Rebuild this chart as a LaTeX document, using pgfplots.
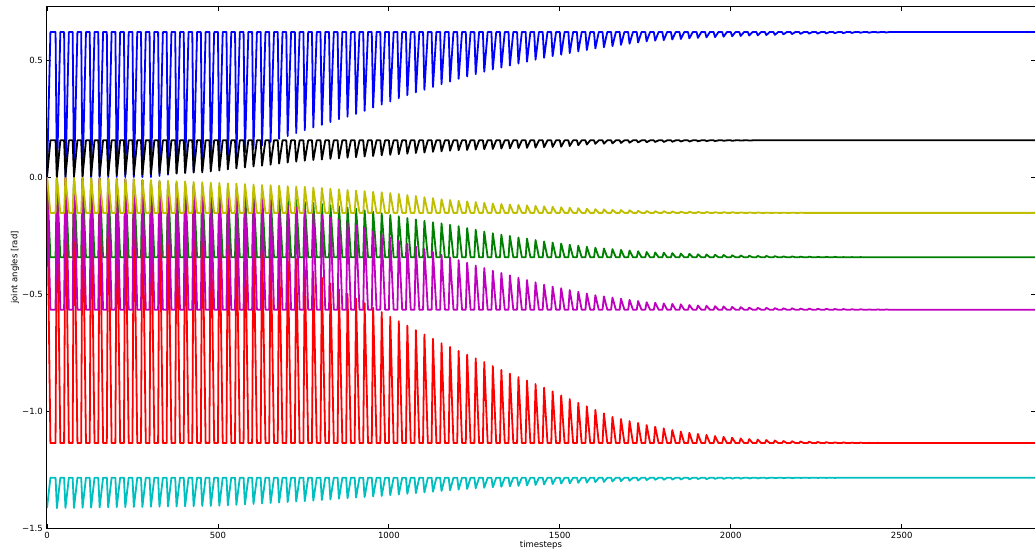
\documentclass[border=0pt]{standalone}
\usepackage{fontspec}
\setmainfont{DejaVu Sans}
\usepackage{pgfplots}
\usepackage{pgfplotstable}
\pgfplotsset{compat=1.18}
\definecolor{mb}{rgb}{0,0,1}
\definecolor{mg}{rgb}{0,0.5,0}
\definecolor{mr}{rgb}{1,0,0}
\definecolor{mc}{rgb}{0,0.75,0.75}
\definecolor{mm}{rgb}{0.75,0,0.75}
\definecolor{my}{rgb}{0.75,0.75,0}
\pgfplotstableread{
t b k y g m r c
0 0 0 0 0 0 0 -1.415
10 0.62 0.157 -0.153 -0.343 -0.567 -1.137 -1.285
25 0.62 0.157 -0.153 -0.343 -0.567 -1.137 -1.285
29 0 0.001 -0.001 -0.001 -0.001 -0.003 -1.415
39 0.62 0.157 -0.153 -0.343 -0.567 -1.137 -1.285
50 0.62 0.157 -0.153 -0.343 -0.567 -1.137 -1.285
54 0 0.002 -0.002 -0.002 -0.002 -0.005 -1.414
64 0.62 0.157 -0.153 -0.343 -0.567 -1.137 -1.285
75 0.62 0.157 -0.153 -0.343 -0.567 -1.137 -1.285
79 0 0.003 -0.003 -0.003 -0.003 -0.008 -1.414
89 0.62 0.157 -0.153 -0.343 -0.567 -1.137 -1.285
100 0.62 0.157 -0.153 -0.343 -0.567 -1.137 -1.285
104 0 0.004 -0.004 -0.004 -0.004 -0.01 -1.413
114 0.62 0.157 -0.153 -0.343 -0.567 -1.137 -1.285
125 0.62 0.157 -0.153 -0.343 -0.567 -1.137 -1.285
129 0 0.005 -0.005 -0.005 -0.005 -0.013 -1.413
139 0.62 0.157 -0.153 -0.343 -0.567 -1.137 -1.285
150 0.62 0.157 -0.153 -0.343 -0.567 -1.137 -1.285
154 0 0.006 -0.006 -0.006 -0.006 -0.015 -1.412
164 0.62 0.157 -0.153 -0.343 -0.567 -1.137 -1.285
175 0.62 0.157 -0.153 -0.343 -0.567 -1.137 -1.285
179 0 0.007 -0.007 -0.007 -0.007 -0.018 -1.412
189 0.62 0.157 -0.153 -0.343 -0.567 -1.137 -1.285
200 0.62 0.157 -0.153 -0.343 -0.567 -1.137 -1.285
204 0 0.008 -0.008 -0.008 -0.008 -0.02 -1.411
214 0.62 0.157 -0.153 -0.343 -0.567 -1.137 -1.285
225 0.62 0.157 -0.153 -0.343 -0.567 -1.137 -1.285
229 0 0.009 -0.009 -0.009 -0.009 -0.023 -1.411
239 0.62 0.157 -0.153 -0.343 -0.567 -1.137 -1.285
250 0.62 0.157 -0.153 -0.343 -0.567 -1.137 -1.285
254 0 0.01 -0.01 -0.01 -0.01 -0.025 -1.41
264 0.62 0.157 -0.153 -0.343 -0.567 -1.137 -1.285
275 0.62 0.157 -0.153 -0.343 -0.567 -1.137 -1.285
279 0 0.011 -0.012 -0.013 -0.014 -0.028 -1.41
289 0.62 0.157 -0.153 -0.343 -0.567 -1.137 -1.285
300 0.62 0.157 -0.153 -0.343 -0.567 -1.137 -1.285
304 0 0.012 -0.013 -0.016 -0.018 -0.03 -1.409
314 0.62 0.157 -0.153 -0.343 -0.567 -1.137 -1.285
325 0.62 0.157 -0.153 -0.343 -0.567 -1.137 -1.285
329 0.005 0.014 -0.015 -0.019 -0.022 -0.041 -1.409
339 0.62 0.157 -0.153 -0.343 -0.567 -1.137 -1.285
350 0.62 0.157 -0.153 -0.343 -0.567 -1.137 -1.285
354 0.01 0.015 -0.016 -0.022 -0.026 -0.053 -1.408
364 0.62 0.157 -0.153 -0.343 -0.567 -1.137 -1.285
375 0.62 0.157 -0.153 -0.343 -0.567 -1.137 -1.285
379 0.015 0.016 -0.018 -0.025 -0.03 -0.064 -1.408
389 0.62 0.157 -0.153 -0.343 -0.567 -1.137 -1.285
400 0.62 0.157 -0.153 -0.343 -0.567 -1.137 -1.285
404 0.02 0.017 -0.019 -0.028 -0.034 -0.075 -1.407
414 0.62 0.157 -0.153 -0.343 -0.567 -1.137 -1.285
425 0.62 0.157 -0.153 -0.343 -0.567 -1.137 -1.285
429 0.025 0.019 -0.021 -0.031 -0.038 -0.086 -1.407
439 0.62 0.157 -0.153 -0.343 -0.567 -1.137 -1.285
450 0.62 0.157 -0.153 -0.343 -0.567 -1.137 -1.285
454 0.03 0.02 -0.022 -0.034 -0.042 -0.098 -1.406
464 0.62 0.157 -0.153 -0.343 -0.567 -1.137 -1.285
475 0.62 0.157 -0.153 -0.343 -0.567 -1.137 -1.285
479 0.045 0.024 -0.024 -0.037 -0.046 -0.109 -1.406
489 0.62 0.157 -0.153 -0.343 -0.567 -1.137 -1.285
500 0.62 0.157 -0.153 -0.343 -0.567 -1.137 -1.285
504 0.06 0.028 -0.025 -0.04 -0.05 -0.12 -1.405
514 0.62 0.157 -0.153 -0.343 -0.567 -1.137 -1.285
525 0.62 0.157 -0.153 -0.343 -0.567 -1.137 -1.285
529 0.075 0.033 -0.027 -0.046 -0.058 -0.143 -1.403
539 0.62 0.157 -0.153 -0.343 -0.567 -1.137 -1.285
550 0.62 0.157 -0.153 -0.343 -0.567 -1.137 -1.285
554 0.09 0.037 -0.028 -0.052 -0.067 -0.167 -1.401
564 0.62 0.157 -0.153 -0.343 -0.567 -1.137 -1.285
575 0.62 0.157 -0.153 -0.343 -0.567 -1.137 -1.285
579 0.105 0.041 -0.03 -0.057 -0.075 -0.19 -1.399
589 0.62 0.157 -0.153 -0.343 -0.567 -1.137 -1.285
600 0.62 0.157 -0.153 -0.343 -0.567 -1.137 -1.285
604 0.12 0.045 -0.032 -0.063 -0.083 -0.213 -1.397
614 0.62 0.157 -0.153 -0.343 -0.567 -1.137 -1.285
625 0.62 0.157 -0.153 -0.343 -0.567 -1.137 -1.285
629 0.135 0.049 -0.034 -0.069 -0.092 -0.237 -1.395
639 0.62 0.157 -0.153 -0.343 -0.567 -1.137 -1.285
650 0.62 0.157 -0.153 -0.343 -0.567 -1.137 -1.285
654 0.15 0.053 -0.035 -0.075 -0.1 -0.26 -1.393
664 0.62 0.157 -0.153 -0.343 -0.567 -1.137 -1.285
675 0.62 0.157 -0.153 -0.343 -0.567 -1.137 -1.285
679 0.163 0.058 -0.037 -0.083 -0.11 -0.29 -1.391
689 0.62 0.157 -0.153 -0.343 -0.567 -1.137 -1.285
700 0.62 0.157 -0.153 -0.343 -0.567 -1.137 -1.285
704 0.175 0.062 -0.039 -0.09 -0.12 -0.32 -1.389
714 0.62 0.157 -0.153 -0.343 -0.567 -1.137 -1.285
725 0.62 0.157 -0.153 -0.343 -0.567 -1.137 -1.285
729 0.188 0.066 -0.04 -0.098 -0.13 -0.35 -1.387
739 0.62 0.157 -0.153 -0.343 -0.567 -1.137 -1.285
750 0.62 0.157 -0.153 -0.343 -0.567 -1.137 -1.285
754 0.2 0.07 -0.042 -0.105 -0.14 -0.38 -1.385
764 0.62 0.157 -0.153 -0.343 -0.567 -1.137 -1.285
775 0.62 0.157 -0.153 -0.343 -0.567 -1.137 -1.285
779 0.212 0.073 -0.045 -0.11 -0.151 -0.405 -1.383
789 0.62 0.157 -0.153 -0.343 -0.567 -1.137 -1.285
800 0.62 0.157 -0.153 -0.343 -0.567 -1.137 -1.285
804 0.223 0.075 -0.047 -0.115 -0.162 -0.43 -1.38
814 0.62 0.157 -0.153 -0.343 -0.567 -1.137 -1.285
825 0.62 0.157 -0.153 -0.343 -0.567 -1.137 -1.285
829 0.235 0.078 -0.05 -0.12 -0.173 -0.455 -1.378
839 0.62 0.157 -0.153 -0.343 -0.567 -1.137 -1.285
850 0.62 0.157 -0.153 -0.343 -0.567 -1.137 -1.285
854 0.247 0.08 -0.052 -0.125 -0.183 -0.48 -1.375
864 0.62 0.157 -0.153 -0.343 -0.567 -1.137 -1.285
875 0.62 0.157 -0.153 -0.343 -0.567 -1.137 -1.285
879 0.258 0.083 -0.055 -0.13 -0.194 -0.5 -1.373
889 0.62 0.157 -0.153 -0.343 -0.567 -1.137 -1.285
900 0.62 0.157 -0.153 -0.343 -0.567 -1.137 -1.285
904 0.27 0.085 -0.058 -0.135 -0.205 -0.519 -1.37
914 0.62 0.157 -0.153 -0.343 -0.567 -1.137 -1.285
925 0.62 0.157 -0.153 -0.343 -0.567 -1.137 -1.285
929 0.283 0.088 -0.06 -0.142 -0.218 -0.539 -1.368
939 0.62 0.157 -0.153 -0.343 -0.567 -1.137 -1.285
950 0.62 0.157 -0.153 -0.343 -0.567 -1.137 -1.285
954 0.297 0.09 -0.063 -0.148 -0.232 -0.558 -1.365
964 0.62 0.157 -0.153 -0.343 -0.567 -1.137 -1.285
975 0.62 0.157 -0.153 -0.343 -0.567 -1.137 -1.285
979 0.31 0.093 -0.065 -0.155 -0.245 -0.577 -1.363
989 0.62 0.157 -0.153 -0.343 -0.567 -1.137 -1.285
1000 0.62 0.157 -0.153 -0.343 -0.567 -1.137 -1.285
1004 0.323 0.095 -0.068 -0.162 -0.258 -0.597 -1.36
1014 0.62 0.157 -0.153 -0.343 -0.567 -1.137 -1.285
1025 0.62 0.157 -0.153 -0.343 -0.567 -1.137 -1.285
1029 0.337 0.098 -0.072 -0.168 -0.272 -0.616 -1.357
1039 0.62 0.157 -0.153 -0.343 -0.567 -1.137 -1.285
1050 0.62 0.157 -0.153 -0.343 -0.567 -1.137 -1.285
1054 0.35 0.1 -0.077 -0.175 -0.285 -0.635 -1.354
1064 0.62 0.157 -0.153 -0.343 -0.567 -1.137 -1.285
1075 0.62 0.157 -0.153 -0.343 -0.567 -1.137 -1.285
1079 0.362 0.103 -0.081 -0.181 -0.297 -0.654 -1.351
1089 0.62 0.157 -0.153 -0.343 -0.567 -1.137 -1.285
1100 0.62 0.157 -0.153 -0.343 -0.567 -1.137 -1.285
1104 0.373 0.105 -0.086 -0.187 -0.308 -0.673 -1.348
1114 0.62 0.157 -0.153 -0.343 -0.567 -1.137 -1.285
1125 0.62 0.157 -0.153 -0.343 -0.567 -1.137 -1.285
1129 0.385 0.108 -0.09 -0.193 -0.32 -0.691 -1.345
1139 0.62 0.157 -0.153 -0.343 -0.567 -1.137 -1.285
1150 0.62 0.157 -0.153 -0.343 -0.567 -1.137 -1.285
1154 0.397 0.11 -0.095 -0.198 -0.332 -0.71 -1.342
1164 0.62 0.157 -0.153 -0.343 -0.567 -1.137 -1.285
1175 0.62 0.157 -0.153 -0.343 -0.567 -1.137 -1.285
1179 0.408 0.113 -0.098 -0.204 -0.343 -0.726 -1.339
1189 0.62 0.157 -0.153 -0.343 -0.567 -1.137 -1.285
1200 0.62 0.157 -0.153 -0.343 -0.567 -1.137 -1.285
1204 0.42 0.115 -0.101 -0.21 -0.355 -0.743 -1.336
1214 0.62 0.157 -0.153 -0.343 -0.567 -1.137 -1.285
1225 0.62 0.157 -0.153 -0.343 -0.567 -1.137 -1.285
1229 0.43 0.116 -0.104 -0.218 -0.366 -0.759 -1.333
1239 0.62 0.157 -0.153 -0.343 -0.567 -1.137 -1.285
1250 0.62 0.157 -0.153 -0.343 -0.567 -1.137 -1.285
1254 0.44 0.118 -0.107 -0.225 -0.378 -0.775 -1.33
1264 0.62 0.157 -0.153 -0.343 -0.567 -1.137 -1.285
1275 0.62 0.157 -0.153 -0.343 -0.567 -1.137 -1.285
1279 0.45 0.119 -0.11 -0.233 -0.389 -0.791 -1.328
1289 0.62 0.157 -0.153 -0.343 -0.567 -1.137 -1.285
1300 0.62 0.157 -0.153 -0.343 -0.567 -1.137 -1.285
1304 0.46 0.12 -0.113 -0.24 -0.4 -0.808 -1.326
1314 0.62 0.157 -0.153 -0.343 -0.567 -1.137 -1.285
1325 0.62 0.157 -0.153 -0.343 -0.567 -1.137 -1.285
1329 0.468 0.122 -0.115 -0.246 -0.41 -0.824 -1.324
1339 0.62 0.157 -0.153 -0.343 -0.567 -1.137 -1.285
1350 0.62 0.157 -0.153 -0.343 -0.567 -1.137 -1.285
1354 0.477 0.123 -0.117 -0.252 -0.42 -0.84 -1.322
1364 0.62 0.157 -0.153 -0.343 -0.567 -1.137 -1.285
1375 0.62 0.157 -0.153 -0.343 -0.567 -1.137 -1.285
1379 0.485 0.124 -0.119 -0.258 -0.43 -0.855 -1.32
1389 0.62 0.157 -0.153 -0.343 -0.567 -1.137 -1.285
1400 0.62 0.157 -0.153 -0.343 -0.567 -1.137 -1.285
1404 0.493 0.125 -0.121 -0.263 -0.44 -0.87 -1.318
1414 0.62 0.157 -0.153 -0.343 -0.567 -1.137 -1.285
1425 0.62 0.157 -0.153 -0.343 -0.567 -1.137 -1.285
1429 0.502 0.126 -0.123 -0.269 -0.45 -0.885 -1.316
1439 0.62 0.157 -0.153 -0.343 -0.567 -1.137 -1.285
1450 0.62 0.157 -0.153 -0.343 -0.567 -1.137 -1.285
1454 0.51 0.128 -0.125 -0.275 -0.46 -0.9 -1.314
1464 0.62 0.157 -0.153 -0.343 -0.567 -1.137 -1.285
1475 0.62 0.157 -0.153 -0.343 -0.567 -1.137 -1.285
1479 0.517 0.129 -0.127 -0.28 -0.468 -0.916 -1.312
1489 0.62 0.157 -0.153 -0.343 -0.567 -1.137 -1.285
1500 0.62 0.157 -0.153 -0.343 -0.567 -1.137 -1.285
1504 0.523 0.13 -0.129 -0.284 -0.475 -0.933 -1.31
1514 0.62 0.157 -0.153 -0.343 -0.567 -1.137 -1.285
1525 0.62 0.157 -0.153 -0.343 -0.567 -1.137 -1.285
1529 0.53 0.133 -0.131 -0.289 -0.483 -0.949 -1.309
1539 0.62 0.157 -0.153 -0.343 -0.567 -1.137 -1.285
1550 0.62 0.157 -0.153 -0.343 -0.567 -1.137 -1.285
1554 0.537 0.136 -0.133 -0.293 -0.49 -0.965 -1.307
1564 0.62 0.157 -0.153 -0.343 -0.567 -1.137 -1.285
1575 0.62 0.157 -0.153 -0.343 -0.567 -1.137 -1.285
1579 0.543 0.139 -0.135 -0.298 -0.498 -0.98 -1.306
1589 0.62 0.157 -0.153 -0.343 -0.567 -1.137 -1.285
1600 0.62 0.157 -0.153 -0.343 -0.567 -1.137 -1.285
1604 0.55 0.142 -0.137 -0.302 -0.505 -0.995 -1.304
1614 0.62 0.157 -0.153 -0.343 -0.567 -1.137 -1.285
1625 0.62 0.157 -0.153 -0.343 -0.567 -1.137 -1.285
1629 0.555 0.143 -0.138 -0.305 -0.51 -1.01 -1.303
1639 0.62 0.157 -0.153 -0.343 -0.567 -1.137 -1.285
1650 0.62 0.157 -0.153 -0.343 -0.567 -1.137 -1.285
1654 0.56 0.144 -0.14 -0.308 -0.515 -1.025 -1.301
1664 0.62 0.157 -0.153 -0.343 -0.567 -1.137 -1.285
1675 0.62 0.157 -0.153 -0.343 -0.567 -1.137 -1.285
1679 0.565 0.146 -0.141 -0.311 -0.52 -1.034 -1.3
1689 0.62 0.157 -0.153 -0.343 -0.567 -1.137 -1.285
1700 0.62 0.157 -0.153 -0.343 -0.567 -1.137 -1.285
1704 0.57 0.147 -0.142 -0.314 -0.525 -1.043 -1.298
1714 0.62 0.157 -0.153 -0.343 -0.567 -1.137 -1.285
1725 0.62 0.157 -0.153 -0.343 -0.567 -1.137 -1.285
1729 0.575 0.148 -0.144 -0.317 -0.53 -1.051 -1.297
1739 0.62 0.157 -0.153 -0.343 -0.567 -1.137 -1.285
1750 0.62 0.157 -0.153 -0.343 -0.567 -1.137 -1.285
1754 0.58 0.149 -0.145 -0.32 -0.535 -1.06 -1.295
1764 0.62 0.157 -0.153 -0.343 -0.567 -1.137 -1.285
1775 0.62 0.157 -0.153 -0.343 -0.567 -1.137 -1.285
1779 0.583 0.15 -0.146 -0.322 -0.537 -1.067 -1.294
1789 0.62 0.157 -0.153 -0.343 -0.567 -1.137 -1.285
1800 0.62 0.157 -0.153 -0.343 -0.567 -1.137 -1.285
1804 0.585 0.15 -0.146 -0.323 -0.54 -1.074 -1.294
1814 0.62 0.157 -0.153 -0.343 -0.567 -1.137 -1.285
1825 0.62 0.157 -0.153 -0.343 -0.567 -1.137 -1.285
1829 0.588 0.151 -0.147 -0.325 -0.542 -1.081 -1.293
1839 0.62 0.157 -0.153 -0.343 -0.567 -1.137 -1.285
1850 0.62 0.157 -0.153 -0.343 -0.567 -1.137 -1.285
1854 0.59 0.152 -0.148 -0.327 -0.544 -1.088 -1.293
1864 0.62 0.157 -0.153 -0.343 -0.567 -1.137 -1.285
1875 0.62 0.157 -0.153 -0.343 -0.567 -1.137 -1.285
1879 0.593 0.152 -0.148 -0.328 -0.547 -1.093 -1.292
1889 0.62 0.157 -0.153 -0.343 -0.567 -1.137 -1.285
1900 0.62 0.157 -0.153 -0.343 -0.567 -1.137 -1.285
1904 0.595 0.153 -0.149 -0.33 -0.549 -1.098 -1.291
1914 0.62 0.157 -0.153 -0.343 -0.567 -1.137 -1.285
1925 0.62 0.157 -0.153 -0.343 -0.567 -1.137 -1.285
1929 0.597 0.154 -0.149 -0.331 -0.55 -1.102 -1.291
1939 0.62 0.157 -0.153 -0.343 -0.567 -1.137 -1.285
1950 0.62 0.157 -0.153 -0.343 -0.567 -1.137 -1.285
1954 0.598 0.154 -0.15 -0.332 -0.552 -1.107 -1.29
1964 0.62 0.157 -0.153 -0.343 -0.567 -1.137 -1.285
1975 0.62 0.157 -0.153 -0.343 -0.567 -1.137 -1.285
1979 0.6 0.155 -0.15 -0.333 -0.553 -1.11 -1.29
1989 0.62 0.157 -0.153 -0.343 -0.567 -1.137 -1.285
2000 0.62 0.157 -0.153 -0.343 -0.567 -1.137 -1.285
2004 0.602 0.155 -0.15 -0.334 -0.555 -1.114 -1.289
2014 0.62 0.157 -0.153 -0.343 -0.567 -1.137 -1.285
2025 0.62 0.157 -0.153 -0.343 -0.567 -1.137 -1.285
2029 0.603 0.156 -0.151 -0.335 -0.556 -1.117 -1.289
2039 0.62 0.157 -0.153 -0.343 -0.567 -1.137 -1.285
2050 0.62 0.157 -0.153 -0.343 -0.567 -1.137 -1.285
2054 0.605 0.156 -0.151 -0.336 -0.558 -1.12 -1.288
2064 0.62 0.157 -0.153 -0.343 -0.567 -1.137 -1.285
2075 0.62 0.157 -0.153 -0.343 -0.567 -1.137 -1.285
2079 0.606 0.157 -0.151 -0.337 -0.559 -1.122 -1.288
2089 0.62 0.157 -0.153 -0.343 -0.567 -1.137 -1.285
2100 0.62 0.157 -0.153 -0.343 -0.567 -1.137 -1.285
2104 0.607 0.157 -0.152 -0.337 -0.559 -1.124 -1.288
2114 0.62 0.157 -0.153 -0.343 -0.567 -1.137 -1.285
2125 0.62 0.157 -0.153 -0.343 -0.567 -1.137 -1.285
2129 0.608 0.157 -0.152 -0.338 -0.56 -1.126 -1.287
2139 0.62 0.157 -0.153 -0.343 -0.567 -1.137 -1.285
2150 0.62 0.157 -0.153 -0.343 -0.567 -1.137 -1.285
2154 0.61 0.157 -0.152 -0.339 -0.561 -1.128 -1.287
2164 0.62 0.157 -0.153 -0.343 -0.567 -1.137 -1.285
2175 0.62 0.157 -0.153 -0.343 -0.567 -1.137 -1.285
2179 0.611 0.157 -0.152 -0.339 -0.561 -1.129 -1.287
2189 0.62 0.157 -0.153 -0.343 -0.567 -1.137 -1.285
2200 0.62 0.157 -0.153 -0.343 -0.567 -1.137 -1.285
2204 0.612 0.157 -0.152 -0.34 -0.562 -1.13 -1.286
2214 0.62 0.157 -0.153 -0.343 -0.567 -1.137 -1.285
2225 0.62 0.157 -0.153 -0.343 -0.567 -1.137 -1.285
2229 0.613 0.157 -0.153 -0.34 -0.562 -1.131 -1.286
2239 0.62 0.157 -0.153 -0.343 -0.567 -1.137 -1.285
2250 0.62 0.157 -0.153 -0.343 -0.567 -1.137 -1.285
2254 0.613 0.157 -0.153 -0.341 -0.563 -1.132 -1.286
2264 0.62 0.157 -0.153 -0.343 -0.567 -1.137 -1.285
2275 0.62 0.157 -0.153 -0.343 -0.567 -1.137 -1.285
2279 0.614 0.157 -0.153 -0.341 -0.563 -1.133 -1.286
2289 0.62 0.157 -0.153 -0.343 -0.567 -1.137 -1.285
2300 0.62 0.157 -0.153 -0.343 -0.567 -1.137 -1.285
2304 0.615 0.157 -0.153 -0.341 -0.564 -1.134 -1.286
2314 0.62 0.157 -0.153 -0.343 -0.567 -1.137 -1.285
2325 0.62 0.157 -0.153 -0.343 -0.567 -1.137 -1.285
2329 0.615 0.157 -0.153 -0.342 -0.564 -1.134 -1.285
2339 0.62 0.157 -0.153 -0.343 -0.567 -1.137 -1.285
2350 0.62 0.157 -0.153 -0.343 -0.567 -1.137 -1.285
2354 0.616 0.157 -0.153 -0.342 -0.565 -1.135 -1.285
2364 0.62 0.157 -0.153 -0.343 -0.567 -1.137 -1.285
2375 0.62 0.157 -0.153 -0.343 -0.567 -1.137 -1.285
2379 0.617 0.157 -0.153 -0.342 -0.565 -1.135 -1.285
2389 0.62 0.157 -0.153 -0.343 -0.567 -1.137 -1.285
2400 0.62 0.157 -0.153 -0.343 -0.567 -1.137 -1.285
2404 0.617 0.157 -0.153 -0.343 -0.566 -1.136 -1.285
2414 0.62 0.157 -0.153 -0.343 -0.567 -1.137 -1.285
2425 0.62 0.157 -0.153 -0.343 -0.567 -1.137 -1.285
2429 0.618 0.157 -0.153 -0.343 -0.566 -1.136 -1.285
2439 0.62 0.157 -0.153 -0.343 -0.567 -1.137 -1.285
2450 0.62 0.157 -0.153 -0.343 -0.567 -1.137 -1.285
2454 0.618 0.157 -0.153 -0.343 -0.566 -1.137 -1.285
2464 0.62 0.157 -0.153 -0.343 -0.567 -1.137 -1.285
2890 0.62 0.157 -0.153 -0.343 -0.567 -1.137 -1.285
}\joints
\begin{document}
\begin{tikzpicture}
\begin{axis}[
  scale only axis, width=988pt, height=521pt,
  xmin=0, xmax=2890, ymin=-1.5, ymax=0.727,
  xtick={0,500,1000,1500,2000,2500},
  xticklabels={0,500,1000,1500,2000,2500},
  ytick={-1.5,-1,-0.5,0,0.5},
  yticklabels={−1.5,−1.0,−0.5,0.0,0.5},
  tick align=inside, major tick length=4pt,
  tick style={black, line width=0.8pt},
  axis line style={black, line width=1pt},
  every tick label/.append style={font=\fontsize{8.5}{10}\selectfont},
  xticklabel style={anchor=north, inner sep=0pt, yshift=-4pt},
  yticklabel style={anchor=east, inner sep=0pt, xshift=-4pt},
  xlabel={timesteps}, ylabel={joint angles [rad]},
  label style={font=\fontsize{8.5}{10}\selectfont},
  xlabel style={at={(rel axis cs:0.5,0)}, anchor=north, inner sep=0pt, yshift=-13pt},
  ylabel style={at={([xshift=-32pt]rel axis cs:0,0.5)}, anchor=center, inner sep=0pt},
  no markers,
  every axis plot/.append style={line width=1.8pt, line join=round},
]
\addplot[mb] table[x=t, y=b] {\joints};
\addplot[mg] table[x=t, y=g] {\joints};
\addplot[mr] table[x=t, y=r] {\joints};
\addplot[mc] table[x=t, y=c] {\joints};
\addplot[mm] table[x=t, y=m] {\joints};
\addplot[my] table[x=t, y=y] {\joints};
\addplot[black] table[x=t, y=k] {\joints};
\end{axis}
\pgfresetboundingbox
\path[use as bounding box] ([xshift=-47pt,yshift=-21pt]current axis.south west) rectangle ([yshift=7pt]current axis.north east);
\end{tikzpicture}
\end{document}
